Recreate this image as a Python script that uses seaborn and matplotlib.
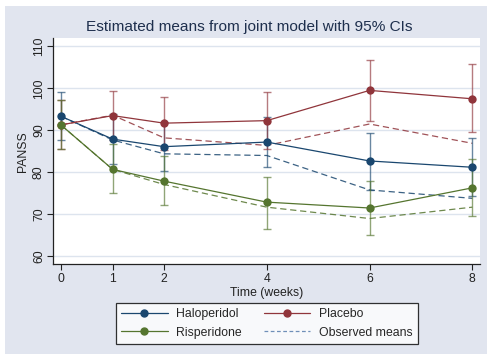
import numpy as np
import pandas as pd
import seaborn as sns
import matplotlib
matplotlib.use("Agg")
import matplotlib.pyplot as plt
from matplotlib.patches import Rectangle
from matplotlib.lines import Line2D

# ---- data ----
weeks = [0, 1, 2, 4, 6, 8]
groups = ["Haloperidol", "Placebo", "Risperidone"]

halo_est = [93.3, 87.9, 86.1, 87.2, 82.7, 81.2]
halo_lo = [87.6, 82.0, 80.2, 81.2, 75.9, 74.4]
halo_hi = [99.1, 93.8, 92.0, 93.2, 89.4, 88.1]

plac_est = [91.3, 93.5, 91.7, 92.3, 99.5, 97.5]
plac_lo = [85.6, 87.7, 85.4, 85.5, 92.3, 89.5]
plac_hi = [97.1, 99.3, 98.0, 99.0, 106.7, 105.7]

risp_est = [91.2, 80.7, 77.9, 72.9, 71.5, 76.3]
risp_lo = [85.5, 75.0, 72.1, 66.6, 65.1, 69.5]
risp_hi = [97.1, 86.7, 83.9, 79.0, 77.9, 83.1]

halo_obs = [93.3, 87.7, 84.4, 84.0, 75.8, 73.8]
plac_obs = [91.3, 93.6, 88.2, 86.4, 91.5, 86.9]
risp_obs = [91.2, 80.7, 77.1, 71.7, 69.0, 71.7]

y_ticks = [60, 70, 80, 90, 100, 110]
x_ticks = [0, 1, 2, 4, 6, 8]

title = "Estimated means from joint model with 95% CIs"
xlabel = "Time (weeks)"
ylabel = "PANSS"

# ---- styling ----
sns.set_style("white")
plt.rcParams['font.family'] = ['Liberation Sans', 'DejaVu Sans']

colors = {"Haloperidol": "#1A476F", "Placebo": "#90353B", "Risperidone": "#55752F"}
bg = "#E1E5EF"
grid_c = "#DDE4EE"

est = {"Haloperidol": halo_est, "Placebo": plac_est, "Risperidone": risp_est}
lo = {"Haloperidol": halo_lo, "Placebo": plac_lo, "Risperidone": risp_lo}
hi = {"Haloperidol": halo_hi, "Placebo": plac_hi, "Risperidone": risp_hi}
obs = {"Haloperidol": halo_obs, "Placebo": plac_obs, "Risperidone": risp_obs}

W, H = 487, 359
fig = plt.figure(figsize=(W / 100, H / 100), dpi=100)
fig.patch.set_facecolor("white")
fig.patches.append(Rectangle((5 / W, 5 / H), 1 - 5 / W, 1 - 11 / H,
                             transform=fig.transFigure, facecolor=bg,
                             edgecolor="none", zorder=-10))

left, right, top, bottom = 53.3, 480.3, 38.3, 264.3
ax = fig.add_axes([left / W, (H - bottom) / H, (right - left) / W, (bottom - top) / H])
ax.set_facecolor("white")

# observed means (dashed)
for g in groups:
    sns.lineplot(x=weeks, y=obs[g], ax=ax, color=colors[g], alpha=0.85,
                 linewidth=0.9, linestyle=(0, (5, 3)), zorder=2)

# confidence intervals
for g in groups:
    e = np.array(est[g]); l = np.array(lo[g]); h = np.array(hi[g])
    ax.errorbar(weeks, e, yerr=[e - l, h - e], fmt="none", ecolor=colors[g],
                alpha=0.65, elinewidth=1.0, capsize=2.6, capthick=1.0, zorder=3)

# estimated means (solid with markers)
for g in groups:
    sns.lineplot(x=weeks, y=est[g], ax=ax, color=colors[g], linewidth=0.9,
                 marker="o", markersize=6, markeredgewidth=0, zorder=4)

ax.set_xlim(-0.155, 8.155)
ax.set_ylim(58.1, 111.9)
ax.set_xticks(x_ticks)
ax.set_yticks(y_ticks)
ax.set_yticklabels([str(v) for v in y_ticks], rotation=90, va="center")
ax.grid(axis="y", color=grid_c, linewidth=1.0)
ax.grid(axis="x", visible=False)
ax.set_axisbelow(True)
for s in ["top", "right"]:
    ax.spines[s].set_visible(False)
for s in ["left", "bottom"]:
    ax.spines[s].set_color("#222222")
    ax.spines[s].set_linewidth(0.9)
ax.tick_params(axis="both", direction="out", length=4, width=0.8, color="#222222",
               labelsize=8.8, labelcolor="#222222", pad=2, left=True, bottom=True)

ax.set_xlabel(xlabel, fontsize=8.8, color="#222222", labelpad=2)
ax.set_ylabel(ylabel, fontsize=8.8, color="#222222", labelpad=3)
fig.text(249 / W, 1 - 27 / H, title, ha="center", va="center",
         fontsize=11.1, color="#1E2F4D")

handles = [
    Line2D([], [], color=colors["Haloperidol"], marker="o", markersize=5, linewidth=0.9),
    Line2D([], [], color=colors["Risperidone"], marker="o", markersize=5, linewidth=0.9),
    Line2D([], [], color=colors["Placebo"], marker="o", markersize=5, linewidth=0.9),
    Line2D([], [], color="#6F8FB8", linestyle=(0, (3, 2)), linewidth=0.9),
]
labels = ["Haloperidol", "Risperidone", "Placebo", "Observed means"]
leg = fig.legend(handles, labels, ncol=2, loc="center",
                 bbox_to_anchor=((left + right) / 2 / W, 1 - 323.5 / H),
                 fontsize=8.8, frameon=True, fancybox=False, handlelength=3.8,
                 handletextpad=0.7, columnspacing=1.8, labelspacing=0.5,
                 borderpad=0.45, edgecolor="black")
leg.get_frame().set_linewidth(0.9)
leg.get_frame().set_facecolor("white")

fig.savefig("out.png", dpi=100)
